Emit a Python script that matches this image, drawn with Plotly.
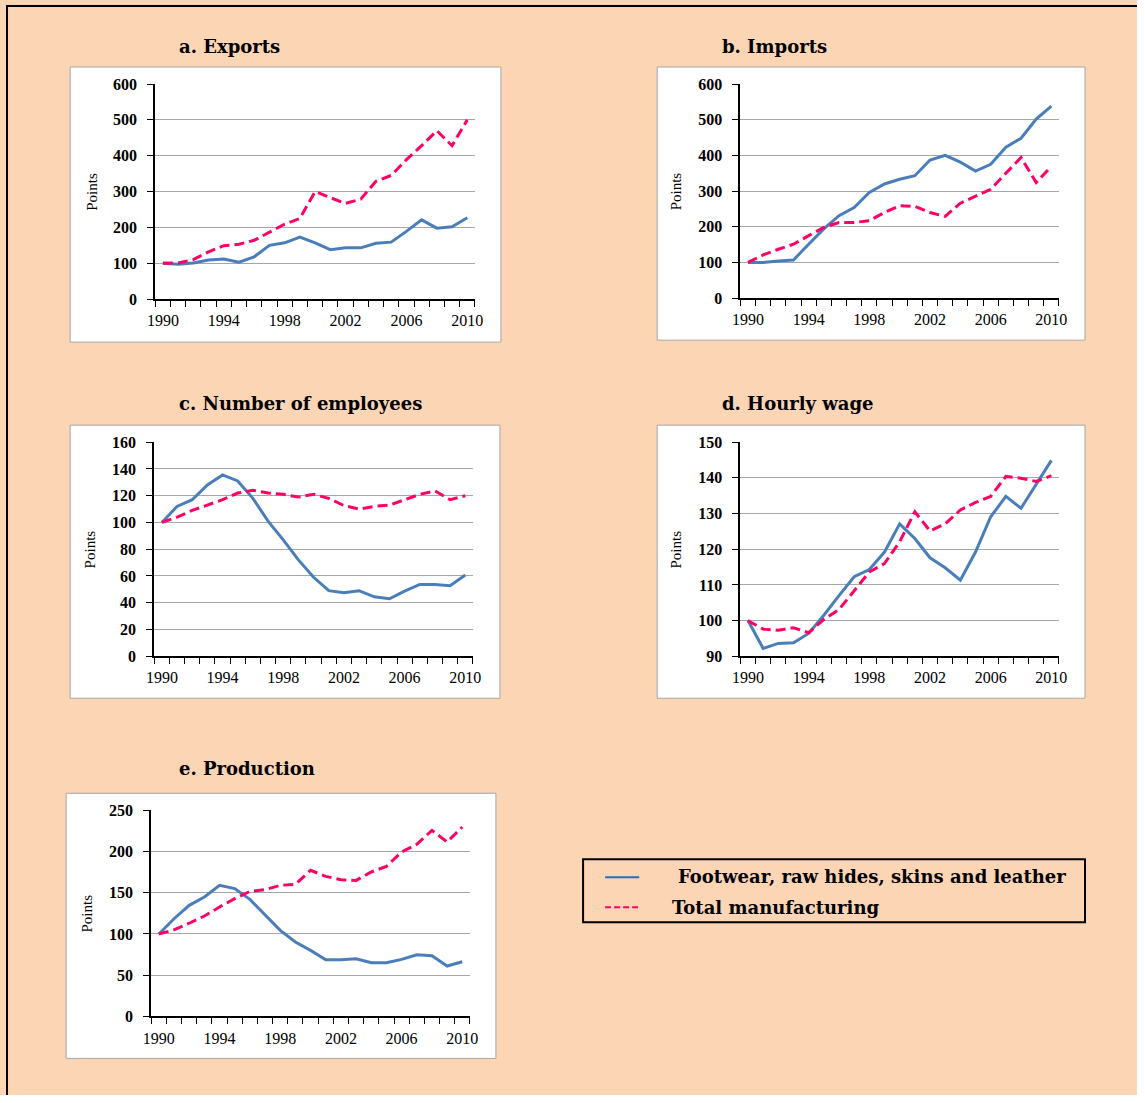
import plotly.graph_objects as go

W, H = 1145, 1103
S = 0.9842  # observed page-to-picture scale of the capture; positions below are picture pixels

years = list(range(1990, 2011))
year_labels = [1990, 1994, 1998, 2002, 2006, 2010]

exports_footwear = [100, 97, 101, 109, 112, 103, 118, 150, 157, 173, 157, 138, 143, 143, 156, 159, 189, 221, 198, 202, 227]
exports_total = [100, 101, 110, 132, 149, 153, 164, 187, 209, 225, 300, 283, 267, 279, 329, 345, 389, 428, 470, 428, 500]

imports_footwear = [100, 100, 104, 107, 151, 194, 231, 254, 296, 320, 333, 343, 387, 400, 381, 356, 375, 423, 448, 502, 538]
imports_total = [100, 121, 137, 151, 175, 198, 212, 212, 217, 240, 259, 257, 240, 229, 266, 285, 305, 350, 394, 324, 369]

employees_footwear = [100, 112, 117, 128, 135.5, 131, 118, 101, 87, 72, 59, 49, 47.4, 49, 44.4, 43, 48.7, 53.7, 53.7, 52.7, 60.7]
employees_total = [100, 104, 109, 113, 117, 122, 124, 122, 121, 119, 121, 118, 112.6, 110, 112, 113, 117, 121, 123.6, 117, 120]

wage_footwear = [100, 92.2, 93.6, 93.8, 96.4, 101.5, 107, 112.3, 114.3, 119.2, 127.1, 123, 117.6, 114.8, 111.3, 119.2, 129.1, 134.8, 131.5, 138.2, 144.9]
wage_total = [100, 97.6, 97.3, 98, 96.6, 100.3, 103.1, 108.5, 113.6, 116, 122.1, 130.5, 125.1, 127.1, 131, 133.1, 134.8, 140.4, 139.9, 139, 140.6]

production_footwear = [100, 118.5, 134.7, 144.8, 159, 155, 142, 122.6, 104.4, 90.2, 80.1, 68.8, 68.8, 70, 65.1, 65.1, 69.2, 74.8, 73.6, 61.1, 66.3]
production_total = [100, 105, 113, 121.8, 132.7, 142.8, 151.7, 153.7, 159, 160.2, 177.2, 169.9, 165.9, 165, 175.2, 182, 199.4, 208.7, 225.7, 211.6, 229.8]

series_names = ["Footwear, raw hides, skins and leather", "Total manufacturing"]
titles = ["a. Exports", "b. Imports", "c. Number of employees", "d. Hourly wage", "e. Production"]
y_ranges = [(0, 600, 100), (0, 600, 100), (0, 160, 20), (90, 150, 10), (0, 250, 50)]
panel_data = [
    (exports_footwear, exports_total),
    (imports_footwear, imports_total),
    (employees_footwear, employees_total),
    (wage_footwear, wage_total),
    (production_footwear, production_total),
]

BG = "#FCD5B5"
BLUE = "#4A7EBB"
PINK = "#FF0066"
GRID = "#A6A6A6"

# layout geometry in picture pixels
plot_px = [
    (155, 474, 84, 299),
    (739, 1057, 84, 298),
    (154, 472, 442, 656),
    (739, 1057, 442, 656),
    (151, 469, 810, 1016),
]
box_px = [
    (70, 500, 67, 342),
    (656, 1083, 67, 340),
    (70, 499, 425, 698),
    (656, 1083, 425, 698),
    (66, 495, 793, 1058),
]
title_px = [(177, 46), (719, 46), (177, 403), (719, 403), (177, 768)]
ytitle_x = [91, 675, 90, 675, 87]


def px(x):
    return (x / S) / W


def py(y):
    return 1 - (y / S) / H


fig = go.Figure()
shapes = []
annotations = []

# outer border
shapes.append(dict(type="rect", xref="paper", yref="paper", x0=px(7), x1=px(1180),
                   y0=py(1140), y1=py(6), line=dict(color="black", width=2), layer="below"))

minor_vals = [y - 0.5 for y in years] + [years[-1] + 0.5]

for i in range(5):
    ax = "" if i == 0 else str(i + 1)
    foot, tot = panel_data[i]
    fig.add_trace(go.Scatter(x=years, y=foot, mode="lines", name=series_names[0],
                             line=dict(color=BLUE, width=3), showlegend=False,
                             xaxis="x" + ax, yaxis="y" + ax))
    fig.add_trace(go.Scatter(x=years, y=tot, mode="lines", name=series_names[1],
                             line=dict(color=PINK, width=3, dash="10px,5px"), showlegend=False,
                             xaxis="x" + ax, yaxis="y" + ax))
    l, r, t, b = plot_px[i]
    y0, y1, dy = y_ranges[i]
    fig.update_layout({
        "xaxis" + ax: dict(
            domain=[px(l), px(r)], anchor="y" + ax, range=[1989.5, 2010.5],
            tickmode="array", tickvals=year_labels, ticks="",
            ticklabelstandoff=6,
            tickfont=dict(family="Liberation Serif", size=16, color="black"),
            showline=True, linecolor="black", linewidth=2, showgrid=False, zeroline=False,
            minor=dict(tickmode="array", tickvals=minor_vals, ticks="outside", ticklen=6,
                       tickcolor="black", tickwidth=1, showgrid=False),
            fixedrange=True,
        ),
        "yaxis" + ax: dict(
            domain=[py(b), py(t)], anchor="x" + ax, range=[y0, y1],
            tickmode="linear", tick0=y0, dtick=dy, ticks="outside", ticklen=6,
            tickcolor="black", tickwidth=1, ticklabelstandoff=7,
            tickfont=dict(family="Liberation Serif", size=16, color="black", weight="bold"),
            showline=True, linecolor="black", linewidth=2,
            showgrid=True, gridcolor=GRID, gridwidth=1, zeroline=False,
            fixedrange=True,
        ),
    })
    bl, br, bt, bb = box_px[i]
    shapes.append(dict(type="rect", xref="paper", yref="paper", x0=px(bl), x1=px(br),
                       y0=py(bb), y1=py(bt), fillcolor="white",
                       line=dict(color="#A6A6A6", width=1), layer="below"))
    tx, ty = title_px[i]
    annotations.append(dict(text=titles[i], xref="paper", yref="paper", x=px(tx), y=py(ty),
                            xanchor="left", yanchor="middle", showarrow=False,
                            font=dict(family="DejaVu Serif", size=18, color="black", weight="bold")))
    annotations.append(dict(text="Points", xref="paper", yref="paper", x=px(ytitle_x[i]),
                            y=py((t + b) / 2), xanchor="center", yanchor="middle",
                            textangle=-90, showarrow=False,
                            font=dict(family="Liberation Serif", size=15, color="black")))

# legend box
shapes.append(dict(type="rect", xref="paper", yref="paper", x0=px(582), x1=px(1083),
                   y0=py(922), y1=py(859), line=dict(color="black", width=2), layer="above"))
shapes.append(dict(type="line", xref="paper", yref="paper", x0=px(604), x1=px(638),
                   y0=py(877), y1=py(877), line=dict(color="#1F6FC5", width=2)))
shapes.append(dict(type="line", xref="paper", yref="paper", x0=px(604), x1=px(638),
                   y0=py(907), y1=py(907), line=dict(color=PINK, width=2, dash="6px,3px")))
annotations.append(dict(text=series_names[0], xref="paper", yref="paper", x=px(675), y=py(876),
                        xanchor="left", yanchor="middle", showarrow=False,
                        font=dict(family="DejaVu Serif", size=18, color="black", weight="bold")))
annotations.append(dict(text=series_names[1], xref="paper", yref="paper", x=px(669), y=py(907),
                        xanchor="left", yanchor="middle", showarrow=False,
                        font=dict(family="DejaVu Serif", size=18, color="black", weight="bold")))

# size comes from the page div (1145 x 1103); the div's negative margin cancels the
# browser's default 8px body margin so the figure starts at the window's corner
fig.update_layout(
    autosize=True,
    margin=dict(l=0, r=0, t=0, b=0),
    paper_bgcolor=BG, plot_bgcolor="white",
    showlegend=False,
    shapes=shapes, annotations=annotations,
)

fig.write_html(
    "out.html",
    config={"displayModeBar": False},
    default_width=f"{W}px; margin:-8px",
    default_height=f"{H}px",
)
